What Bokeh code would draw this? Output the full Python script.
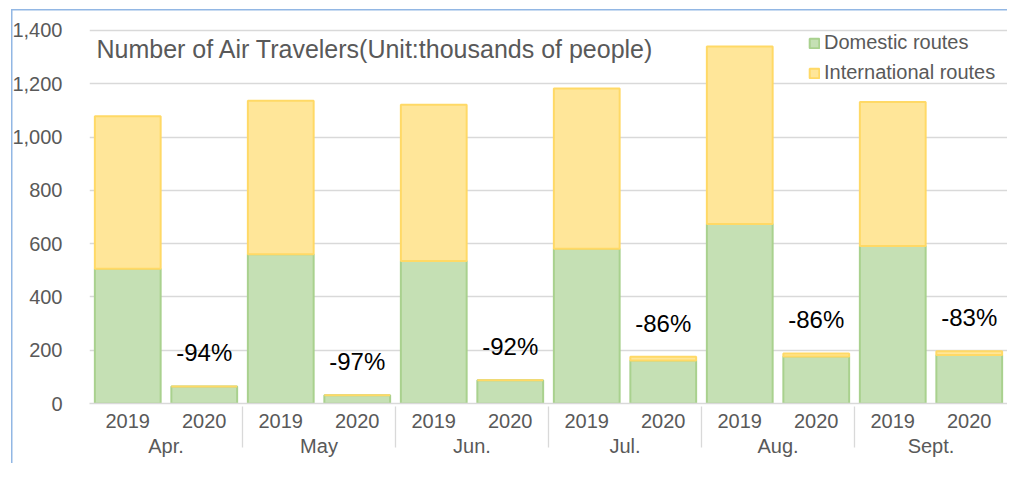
from bokeh.plotting import figure
from bokeh.models import ColumnDataSource, FactorRange, FixedTicker, NumeralTickFormatter, Label, Legend, LegendItem
from bokeh.embed import file_html
from bokeh.resources import INLINE
from bokeh.core.properties import value

months = ["Apr.", "May", "Jun.", "Jul.", "Aug.", "Sept."]
years = ["2019", "2020"]
domestic_2019 = [506, 560, 535, 581, 674, 591]
international_2019 = [572, 576, 586, 601, 666, 540]
domestic_2020 = [64, 31, 87, 161, 176, 182]
international_2020 = [0, 0, 0, 14, 12, 14]
change_labels = ["-94%", "-97%", "-92%", "-86%", "-86%", "-83%"]
y_ticks = [0, 200, 400, 600, 800, 1000, 1200, 1400]
chart_label = "Number of Air Travelers(Unit:thousands of people)"

FONT = "Liberation Sans"
GREY = "#595959"
BLUE = "#92b7e4"

x = [(m, y) for m in months for y in years]
dom = []
intl = []
for i in range(len(months)):
    dom += [domestic_2019[i], domestic_2020[i]]
    intl += [international_2019[i], international_2020[i]]
source = ColumnDataSource(dict(x=x, dom=dom, intl=intl))

lab_x = [(m, "2020") for m in months]
lab_y = [domestic_2020[i] + international_2020[i] for i in range(len(months))]
lab_src = ColumnDataSource(dict(x=lab_x, y=lab_y, t=change_labels))

xr = FactorRange(*x, group_padding=0, subgroup_padding=0, factor_padding=0, range_padding=0)
p = figure(x_range=xr, y_range=(0, 1441), width=1007, height=463,
           output_backend="svg", toolbar_location=None,
           min_border_left=89, min_border_right=0, min_border_top=19, min_border_bottom=60)
p.border_fill_color = None
p.styles = {"background": (f"linear-gradient({BLUE},{BLUE}) 11px 9px / 1.5px 100% no-repeat, "
                           f"linear-gradient({BLUE},{BLUE}) 11px 9px / 100% 1.5px no-repeat, white")}

rs = p.vbar_stack(["dom", "intl"], x="x", width=0.86, source=source,
                  fill_color=["#c5e0b4", "#ffe699"], line_color=["#a9d18e", "#ffd966"],
                  line_width=2)

p.text(x="x", y="y", text="t", source=lab_src, y_offset=-20,
       text_align="center", text_baseline="bottom",
       text_font=value(FONT), text_font_size="24px", text_color="black")

p.add_layout(Label(x=7, y=355, x_units="screen", y_units="screen", text=chart_label,
                   text_font=FONT, text_font_size="25px", text_color=GREY,
                   text_baseline="middle", text_align="left"))

legend = Legend(items=[LegendItem(label="Domestic routes", renderers=[rs[0]]),
                       LegendItem(label="International routes", renderers=[rs[1]])],
                location=(719, 319), orientation="vertical",
                glyph_width=12, glyph_height=12, label_standoff=4, spacing=7,
                padding=5, label_height=20,
                label_text_font=FONT, label_text_font_size="20px", label_text_color=GREY,
                border_line_color=None, background_fill_alpha=0)
p.add_layout(legend)

p.outline_line_color = None
p.xgrid.grid_line_color = None
p.ygrid.grid_line_color = "#d9d9d9"
p.ygrid.grid_line_width = 1.3

p.yaxis.ticker = FixedTicker(ticks=y_ticks)
p.yaxis.formatter = NumeralTickFormatter(format="0,0")
p.yaxis.axis_line_color = None
p.yaxis.major_tick_line_color = None
p.yaxis.minor_tick_line_color = None
p.yaxis.major_label_standoff = 21
p.yaxis.major_label_text_font = FONT
p.yaxis.major_label_text_font_size = "20px"
p.yaxis.major_label_text_color = GREY

p.xaxis.axis_line_color = "#d9d9d9"
p.xaxis.axis_line_width = 1.3
p.xaxis.major_tick_line_color = None
p.xaxis.minor_tick_line_color = None
p.xaxis.major_label_standoff = 4
p.xaxis.major_label_text_font = FONT
p.xaxis.major_label_text_font_size = "20px"
p.xaxis.major_label_text_color = GREY
p.xaxis.group_text_font = FONT
p.xaxis.group_text_font_size = "20px"
p.xaxis.group_text_font_style = "normal"
p.xaxis.group_text_color = GREY
p.xaxis.separator_line_color = "#d9d9d9"
p.xaxis.separator_line_width = 1.3

open("out.html", "w").write(file_html(p, INLINE))
